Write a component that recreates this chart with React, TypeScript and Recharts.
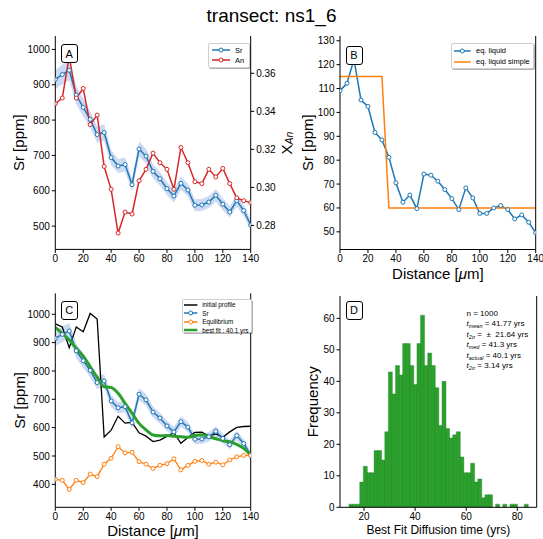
import React from 'react';
import { ComposedChart, Line, Area, Bar, XAxis, YAxis } from 'recharts';

const FONT = "'Liberation Sans', Arial, Helvetica, sans-serif";

// ---------- data ----------
const distance = [0, 5, 10, 15, 20, 25, 30, 35, 40, 45, 50, 55, 60, 65, 70, 75, 80, 85, 90, 95, 100, 105, 110, 115, 120, 125, 130, 135, 140];
const srPpm = [915, 929, 941, 871, 836, 802, 759, 765, 694, 670, 674, 617, 718, 698, 655, 634, 606, 585, 621, 602, 559, 560, 568, 587, 562, 540, 572, 544, 503];
const srUncertainty = [27, 28, 28, 26, 25, 24, 23, 23, 21, 20, 20, 19, 22, 21, 20, 19, 18, 18, 19, 18, 17, 17, 17, 18, 17, 16, 17, 16, 15];
const anFraction = [0.344, 0.347, 0.369, 0.347, 0.352, 0.333, 0.338, 0.311, 0.299, 0.276, 0.287, 0.286, 0.3035, 0.3095, 0.318, 0.313, 0.3095, 0.299, 0.321, 0.313, 0.303, 0.302, 0.3095, 0.3055, 0.31, 0.302, 0.2945, 0.293, 0.292];
const eqLiquid = [109.1, 112.2, 122.2, 105.2, 102.5, 91.6, 88.5, 81.2, 70.5, 62.4, 65.4, 59.7, 74.2, 73.7, 71.2, 67.7, 63.9, 59.3, 68.4, 64.2, 57.7, 57.7, 60.0, 61.0, 59.3, 55.4, 57.1, 54.0, 49.6];
const simpleDistance = [0, 30, 35, 140];
const eqLiquidSimple = [115, 115, 60, 60];
const initialProfile = [966, 955, 882, 955, 938, 1003, 983, 567, 591, 640, 616, 619, 582, 570, 551, 556, 569, 582, 545, 565, 583, 584, 570, 578, 566, 585, 601, 604, 605];
const equilibrium = [418, 414, 382, 414, 406, 436, 427, 471, 492, 533, 511, 513, 480, 471, 456, 467, 473, 490, 451, 467, 481, 484, 471, 478, 469, 486, 497, 502, 502];
const bestFit = [954, 932, 909, 880, 852, 815, 778, 744, 742, 721, 686, 651, 615, 592, 574, 571, 572, 570, 568, 566, 572, 575, 568, 561, 554, 550, 541, 527, 504];

const histBinStart = 14.13;
const histBinWidth = 1.4;
const histCounts = [1, 1, 1, 8, 13, 11, 11, 18, 18, 15, 24, 43, 36, 45, 42, 52, 52, 45, 39, 52, 61, 45, 49, 45, 38, 26, 40, 25, 22, 23, 24, 16, 11, 11, 14, 8, 9, 3, 4, 4, 0, 1, 0, 1, 0, 1, 1, 0, 0, 1];

const distanceTicks = [0, 20, 40, 60, 80, 100, 120, 140];
const srTicksA = [500, 600, 700, 800, 900, 1000];
const anTicks = [0.28, 0.3, 0.32, 0.34, 0.36];
const eqTicks = [50, 60, 70, 80, 90, 100, 110, 120, 130];
const srTicksC = [400, 500, 600, 700, 800, 900, 1000];
const timeTicks = [20, 40, 60, 80];
const freqTicks = [0, 10, 20, 30, 40, 50, 60];

const profileRows = distance.map((x, i) => ({
  x,
  sr: srPpm[i],
  band: [srPpm[i] - srUncertainty[i], srPpm[i] + srUncertainty[i]],
  an: anFraction[i],
  eq: eqLiquid[i],
  init: initialProfile[i],
  equil: equilibrium[i],
  fit: bestFit[i],
}));
const simpleRows = simpleDistance.map((x, i) => ({ x, simple: eqLiquidSimple[i] }));
const histRows = histCounts.map((n, i) => ({ x: histBinStart + histBinWidth * (i + 0.5), n }));

// ---------- styling helpers ----------
const BLUE = '#1f77b4';
const RED = '#d62728';
const ORANGE = '#ff7f0e';
const GREEN = '#2ca02c';
const tickStyle = { fontSize: 10, fill: '#000', fontFamily: FONT };
const blackLine = { stroke: '#000', strokeWidth: 1 };

function range(a: number, b: number, step: number) {
  const out: number[] = [];
  for (let v = a; v <= b + 1e-9; v += step) out.push(Math.round(v * 1e6) / 1e6);
  return out;
}

type AxisSpec = { domain: [number, number]; major: number[]; minor: number[]; fmt?: (v: number) => string };

function frameAxes(cfg: {
  x: AxisSpec; y: AxisSpec; yr?: AxisSpec;
  leftW: number; bottomH: number; rightW: number;
  xLabel?: any; yLabel?: any; yrLabel?: any;
}) {
  const { x, y, yr, leftW, bottomH, rightW, xLabel, yLabel, yrLabel } = cfg;
  const r = yr || y;
  return [
    <XAxis key="xm" xAxisId="xm" type="number" domain={x.domain} allowDataOverflow ticks={x.minor} interval={0} tick={false} tickSize={2} tickLine={blackLine} axisLine={false} height={0} />,
    <XAxis key="x" xAxisId="x" dataKey="x" type="number" domain={x.domain} allowDataOverflow ticks={x.major} interval={0} tick={tickStyle} tickSize={3.5} tickLine={blackLine} axisLine={blackLine} height={bottomH} label={xLabel} tickFormatter={x.fmt} />,
    <XAxis key="xtm" xAxisId="xtm" orientation="top" type="number" domain={x.domain} allowDataOverflow ticks={x.minor} interval={0} tick={false} tickSize={2} tickLine={blackLine} axisLine={false} height={0} />,
    <XAxis key="xt" xAxisId="xt" orientation="top" type="number" domain={x.domain} allowDataOverflow ticks={x.major} interval={0} tick={false} tickSize={3.5} tickLine={blackLine} axisLine={blackLine} height={0} />,
    <YAxis key="ym" yAxisId="ym" type="number" domain={y.domain} allowDataOverflow ticks={y.minor} interval={0} tick={false} tickSize={2} tickLine={blackLine} axisLine={false} width={0} />,
    <YAxis key="y" yAxisId="y" type="number" domain={y.domain} allowDataOverflow ticks={y.major} interval={0} tick={tickStyle} tickSize={3.5} tickLine={blackLine} axisLine={blackLine} width={leftW} label={yLabel} tickFormatter={y.fmt} />,
    <YAxis key="yrm" yAxisId="yrm" orientation="right" type="number" domain={r.domain} allowDataOverflow ticks={r.minor} interval={0} tick={false} tickSize={2} tickLine={blackLine} axisLine={false} width={0} />,
    <YAxis key="yr" yAxisId="yr" orientation="right" type="number" domain={r.domain} allowDataOverflow ticks={r.major} interval={0} tick={yr ? tickStyle : false} tickSize={3.5} tickLine={blackLine} axisLine={blackLine} width={rightW} label={yrLabel} tickFormatter={r.fmt} />,
  ];
}

const vText = (text: React.ReactNode, x: number, y: number, size = 15) => () => (
  <text x={x} y={y} transform={`rotate(-90 ${x} ${y})`} textAnchor="middle" dominantBaseline="central" fontSize={size} fontFamily={FONT} fill="#000">{text}</text>
);
const hText = (text: React.ReactNode, x: number, y: number, size = 15) => () => (
  <text x={x} y={y} textAnchor="middle" fontSize={size} fontFamily={FONT} fill="#000">{text}</text>
);
const distanceLabel = (
  <>
    <tspan>Distance [</tspan>
    <tspan fontStyle="italic">μ</tspan>
    <tspan>m]</tspan>
  </>
);

// ---------- overlays ----------
function Tag({ letter, left, top }: { letter: string; left: number; top: number }) {
  return (
    <div style={{ position: 'absolute', left, top, width: 17, height: 19, boxSizing: 'border-box', border: '1.4px solid #000', borderRadius: 3, background: '#fff', fontFamily: FONT, fontSize: 11, display: 'flex', alignItems: 'center', justifyContent: 'center', color: '#000' }}>{letter}</div>
  );
}

type LegendRow = { label: React.ReactNode; color: string; marker?: boolean; width?: number };
function LegendBox(p: { left: number; top: number; width: number; height: number; rows: LegendRow[]; fontSize: number; rowTop: number; rowStep: number; sampleLeft: number; sampleWidth: number; textLeft: number }) {
  return (
    <div style={{ position: 'absolute', left: p.left, top: p.top, width: p.width, height: p.height, boxSizing: 'border-box', border: '1px solid #cfcfcf', borderRadius: 2, background: '#fff', boxShadow: '1px 1px 0 rgba(0,0,0,0.3)', fontFamily: FONT, fontSize: p.fontSize, color: '#000' }}>
      {p.rows.map((r, i) => {
        const cy = p.rowTop + i * p.rowStep;
        return (
          <React.Fragment key={i}>
            <svg style={{ position: 'absolute', left: p.sampleLeft, top: cy - 4 }} width={p.sampleWidth} height={8}>
              <line x1={0} y1={4} x2={p.sampleWidth} y2={4} stroke={r.color} strokeWidth={r.width ?? 1.5} />
              {r.marker && <circle cx={p.sampleWidth / 2} cy={4} r={2} fill="#fff" stroke={r.color} strokeWidth={1} />}
            </svg>
            <div style={{ position: 'absolute', left: p.textLeft, top: cy - p.fontSize * 0.6, lineHeight: `${p.fontSize * 1.2}px`, whiteSpace: 'nowrap' }}>{r.label}</div>
          </React.Fragment>
        );
      })}
    </div>
  );
}

const Sub = ({ children }: { children: React.ReactNode }) => (
  <span style={{ fontSize: 5.5, fontStyle: 'italic', position: 'relative', top: 2 }}>{children}</span>
);

function Stats() {
  const lines: React.ReactNode[] = [
    <>n = 1000</>,
    <><i>t</i><Sub>mean</Sub> = 41.77 yrs</>,
    <><i>t</i><Sub>2σ</Sub> = &nbsp;±&nbsp; 21.64 yrs</>,
    <><i>t</i><Sub>med</Sub> = 41.3 yrs</>,
    <><i>t</i><Sub>actual</Sub> = 40.1 yrs</>,
    <><i>t</i><Sub>2σ</Sub> = 3.14 yrs</>,
  ];
  return (
    <div style={{ position: 'absolute', left: 466.5, top: 308.8, fontFamily: FONT, fontSize: 8, lineHeight: '10.5px', color: '#000', whiteSpace: 'nowrap' }}>
      {lines.map((l, i) => <div key={i}>{l}</div>)}
    </div>
  );
}

// ---------- panels ----------
function PanelA() {
  return (
    <div style={{ position: 'absolute', left: 0, top: 0, width: 300, height: 270 }}>
      <ComposedChart width={300} height={270} data={profileRows} margin={{ top: 36, right: 0, bottom: 0, left: 0 }}>
        {frameAxes({
          x: { domain: [0, 140], major: distanceTicks, minor: range(0, 140, 5) },
          y: { domain: [434, 1038], major: srTicksA, minor: range(440, 1020, 20) },
          yr: { domain: [0.2674, 0.3796], major: anTicks, minor: range(0.27, 0.375, 0.005), fmt: (v) => v.toFixed(2) },
          leftW: 55.3, bottomH: 20.6, rightW: 49.3,
          yLabel: vText('Sr [ppm]', 19, 142.7),
          yrLabel: vText(<><tspan>X</tspan><tspan fontSize={10.5} fontStyle="italic" dy={3}>An</tspan></>, 286, 143),
        })}
        <Area xAxisId="x" yAxisId="y" dataKey="band" stroke="none" fill="#6f96dc" fillOpacity={0.35} isAnimationActive={false} activeDot={false} />
        <Line xAxisId="x" yAxisId="y" dataKey="sr" stroke={BLUE} strokeWidth={1.5} dot={{ r: 2, fill: '#fff', stroke: BLUE, strokeWidth: 1 }} activeDot={false} isAnimationActive={false} />
        <Line xAxisId="x" yAxisId="yr" dataKey="an" stroke={RED} strokeWidth={1.5} dot={{ r: 2, fill: '#fff', stroke: RED, strokeWidth: 1 }} activeDot={false} isAnimationActive={false} />
      </ComposedChart>
    </div>
  );
}

function PanelB() {
  return (
    <div style={{ position: 'absolute', left: 270, top: 0, width: 273, height: 290 }}>
      <ComposedChart width={273} height={290} data={profileRows} margin={{ top: 36, right: 0, bottom: 0, left: 0 }}>
        {frameAxes({
          x: { domain: [0, 140], major: distanceTicks, minor: range(0, 140, 5) },
          y: { domain: [42.6, 132], major: eqTicks, minor: range(44, 132, 2) },
          leftW: 70, bottomH: 40.5, rightW: 7.3,
          yLabel: vText('Sr [ppm]', 37.5, 142.7),
          xLabel: hText(distanceLabel, 167.9, 278.5),
        })}
        <Line xAxisId="x" yAxisId="y" dataKey="eq" stroke={BLUE} strokeWidth={1.5} dot={{ r: 2, fill: '#fff', stroke: BLUE, strokeWidth: 1 }} activeDot={false} isAnimationActive={false} />
        <Line xAxisId="x" yAxisId="y" data={simpleRows} dataKey="simple" stroke={ORANGE} strokeWidth={1.5} dot={false} activeDot={false} isAnimationActive={false} />
      </ComposedChart>
    </div>
  );
}

function PanelC() {
  return (
    <div style={{ position: 'absolute', left: 0, top: 270, width: 280, height: 269 }}>
      <ComposedChart width={280} height={269} data={profileRows} margin={{ top: 23.3, right: 0, bottom: 0, left: 0 }}>
        {frameAxes({
          x: { domain: [0, 140], major: distanceTicks, minor: range(0, 140, 5) },
          y: { domain: [319, 1074], major: srTicksC, minor: range(320, 1060, 20) },
          leftW: 55.3, bottomH: 31.7, rightW: 29.3,
          yLabel: vText('Sr [ppm]', 19.5, 130.3),
          xLabel: hText(distanceLabel, 153, 265.5),
        })}
        <Area xAxisId="x" yAxisId="y" dataKey="band" stroke="none" fill="#6f96dc" fillOpacity={0.35} isAnimationActive={false} activeDot={false} />
        <Line xAxisId="x" yAxisId="y" dataKey="init" stroke="#000" strokeWidth={1.3} dot={false} activeDot={false} isAnimationActive={false} />
        <Line xAxisId="x" yAxisId="y" dataKey="sr" stroke={BLUE} strokeWidth={1.5} dot={{ r: 2, fill: '#fff', stroke: BLUE, strokeWidth: 1 }} activeDot={false} isAnimationActive={false} />
        <Line xAxisId="x" yAxisId="y" dataKey="equil" stroke={ORANGE} strokeWidth={1.3} dot={{ r: 2, fill: '#fff', stroke: ORANGE, strokeWidth: 1 }} activeDot={false} isAnimationActive={false} />
        <Line xAxisId="x" yAxisId="y" dataKey="fit" type="monotone" stroke={GREEN} strokeWidth={3} dot={false} activeDot={false} isAnimationActive={false} />
      </ComposedChart>
    </div>
  );
}

function PanelD() {
  return (
    <div style={{ position: 'absolute', left: 270, top: 270, width: 273, height: 269 }}>
      <ComposedChart width={273} height={269} data={histRows} margin={{ top: 26, right: 0, bottom: 0, left: 0 }} barCategoryGap={0} barGap={0}>
        {frameAxes({
          x: { domain: [10.6, 87.6], major: timeTicks, minor: range(15, 85, 5) },
          y: { domain: [0, 67.1], major: freqTicks, minor: range(0, 66, 2) },
          leftW: 70, bottomH: 31.7, rightW: 6.3,
          yLabel: vText('Frequency', 43, 131.7),
          xLabel: hText('Best Fit Diffusion time (yrs)', 168.3, 264, 12),
        })}
        <Bar xAxisId="x" yAxisId="y" dataKey="n" fill={GREEN} stroke="#23862a" strokeWidth={0.4} isAnimationActive={false} />
      </ComposedChart>
    </div>
  );
}

export default function App() {
  return (
    <div style={{ position: 'absolute', left: 0, top: 0, width: 543, height: 539, background: '#fff', overflow: 'hidden' }}>
      <div style={{ position: 'absolute', left: 0, top: 4, width: 543, textAlign: 'center', fontFamily: FONT, fontSize: 19, lineHeight: '24px', color: '#000' }}>transect: ns1_6</div>
      <PanelA />
      <PanelB />
      <PanelC />
      <PanelD />
      <Tag letter="A" left={60.7} top={44.3} />
      <Tag letter="B" left={345.5} top={45.5} />
      <Tag letter="C" left={60.7} top={300.7} />
      <Tag letter="D" left={345.5} top={300.7} />
      <LegendBox left={208} top={43} width={41.5} height={25} fontSize={7.5} rowTop={6.3} rowStep={10} sampleLeft={3} sampleWidth={18} textLeft={26}
        rows={[{ label: 'Sr', color: BLUE, marker: true }, { label: 'An', color: RED, marker: true }]} />
      <LegendBox left={450.7} top={43.3} width={83} height={26} fontSize={7.5} rowTop={6.7} rowStep={10.7} sampleLeft={2.6} sampleWidth={16.7} textLeft={24.3}
        rows={[{ label: 'eq. liquid', color: BLUE, marker: true }, { label: 'eq. liquid simple', color: ORANGE }]} />
      <LegendBox left={181.7} top={299.3} width={70} height={33.4} fontSize={6.3} rowTop={4.7} rowStep={8.5} sampleLeft={1.6} sampleWidth={13.4} textLeft={19.5}
        rows={[
          { label: 'initial profile', color: '#000' },
          { label: 'Sr', color: BLUE, marker: true },
          { label: 'Equilibrium', color: ORANGE, marker: true },
          { label: 'best fit : 40.1 yrs', color: GREEN, width: 2.5 },
        ]} />
      <Stats />
    </div>
  );
}
